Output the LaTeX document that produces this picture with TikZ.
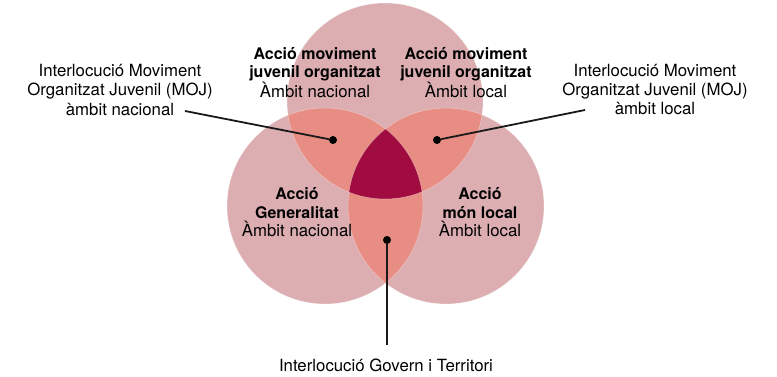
\documentclass[tikz,border=0pt]{standalone}
\usepackage{fontspec}
\setmainfont{TeX Gyre Heros}
\definecolor{cerclerosa}{RGB}{220,174,177}
\definecolor{solapsalmo}{RGB}{232,141,132}
\definecolor{centregrana}{RGB}{160,12,64}
\newcommand{\negreta}[1]{{\fontsize{16}{18.5}\selectfont\bfseries #1}}

\begin{document}
\begin{tikzpicture}[x=1pt, y=1pt,
		cercle/.style={fill=cerclerosa},
		vora/.style={draw=white, line width=0.5pt, opacity=0.4},
		etiqueta/.style={align=center, inner sep=0pt, font=\fontsize{16.8}{18.5}\selectfont},
		externa/.style={align=center, inner sep=0pt, font=\fontsize{16.8}{19.2}\selectfont},
		punt/.style={circle, fill=black, inner sep=0pt, minimum size=8pt},
		guia/.style={line width=1.8pt, draw=black!90}]
		%%%%% START %%%%%
		
		\useasboundingbox (0, 0) rectangle (777, 377);
		\def\radi{98}
		
		\coordinate (dalt) at (385, 276);
		\coordinate (esq) at (325, 171);
		\coordinate (dre) at (446, 171);
		
		\fill[cercle] (dalt) circle (\radi);
		\fill[cercle] (esq) circle (\radi);
		\fill[cercle] (dre) circle (\radi);
		
		\begin{scope}
			\clip (dalt) circle (\radi);
			\fill[solapsalmo] (esq) circle (\radi);
			\fill[solapsalmo] (dre) circle (\radi);
		\end{scope}
		\begin{scope}
			\clip (esq) circle (\radi);
			\fill[solapsalmo] (dre) circle (\radi);
		\end{scope}
		\begin{scope}
			\clip (dalt) circle (\radi);
			\clip (esq) circle (\radi);
			\fill[centregrana] (dre) circle (\radi);
		\end{scope}
		
		\draw[vora] (dalt) circle (\radi);
		\draw[vora] (esq) circle (\radi);
		\draw[vora] (dre) circle (\radi);
		
		\node[etiqueta] (movnacional) at (315, 304.5) {\negreta{Acció moviment}\\\negreta{juvenil organitzat}\\Àmbit nacional};
		\node[etiqueta] (movlocal) at (466, 304.5) {\negreta{Acció moviment}\\\negreta{juvenil organitzat}\\Àmbit local};
		\node[etiqueta] (generalitat) at (297, 164.4) {\negreta{Acció}\\\negreta{Generalitat}\\Àmbit nacional};
		\node[etiqueta] (monlocal) at (480, 164.4) {\negreta{Acció}\\\negreta{món local}\\Àmbit local};
		
		\node[externa] (mojnacional) at (120, 287) {Interlocució Moviment\\Organitzat Juvenil (MOJ)\\àmbit nacional};
		\node[externa] (mojlocal) at (655, 287.3) {Interlocució Moviment\\Organitzat Juvenil (MOJ)\\àmbit local};
		\node[externa, anchor=base] (govern) at (386, 5) {Interlocució Govern i Territori};
		
		\node[punt] (puntnacional) at (333, 237) {};
		\node[punt] (puntlocal) at (437, 237) {};
		\node[punt] (puntgovern) at (387, 137) {};
		
		\coordinate (guiaesq) at (185, 266);
		\coordinate (guiadre) at (585, 267);
		\coordinate (guiabaix) at (387, 32);
		
		\draw[guia] (guiaesq) -- (puntnacional);
		\draw[guia] (guiadre) -- (puntlocal);
		\draw[guia] (guiabaix) -- (puntgovern);
		
		%%%%% END %%%%%
\end{tikzpicture}
\end{document}
